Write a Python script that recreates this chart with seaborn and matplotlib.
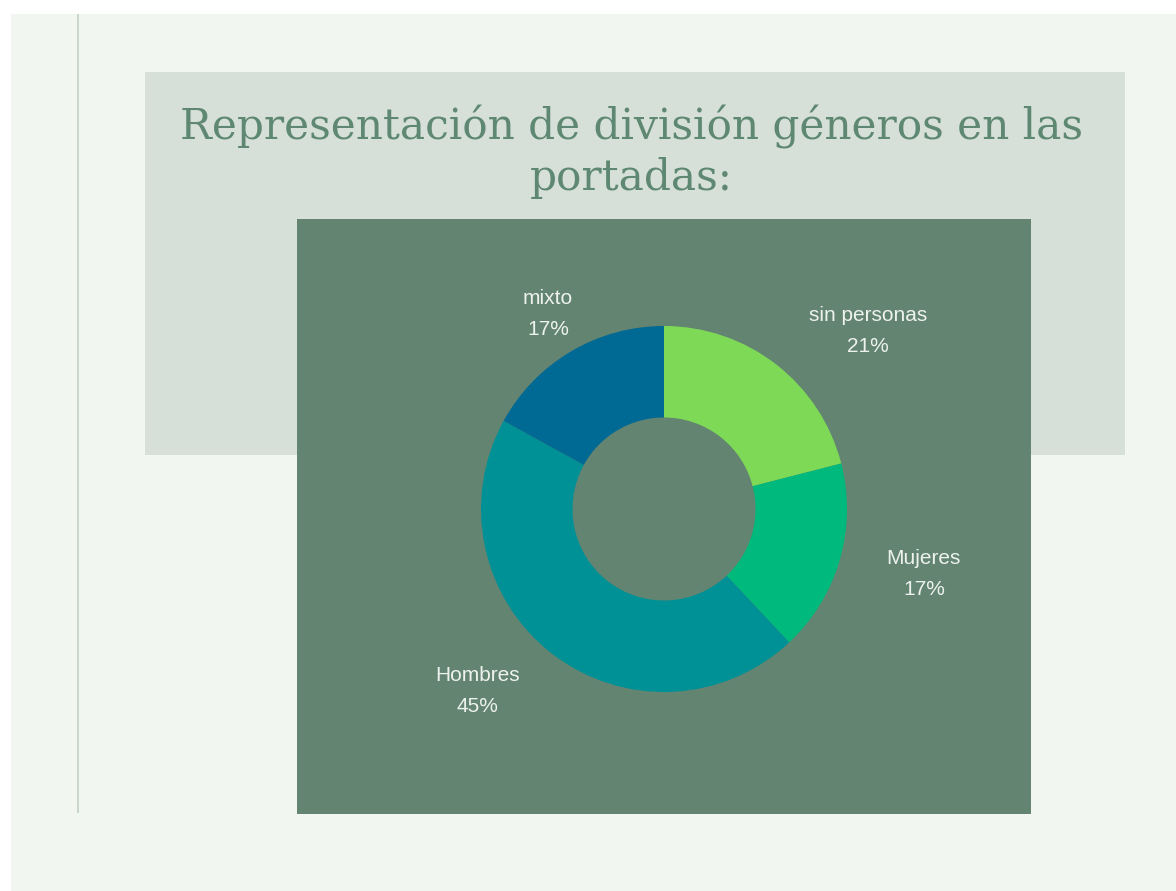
import matplotlib
matplotlib.use("Agg")
import matplotlib.pyplot as plt
import seaborn as sns
from matplotlib.patches import Rectangle

sns.set_theme(style="white")

# ---- data ----
categories = ["sin personas", "Mujeres", "Hombres", "mixto"]
values = [21, 17, 45, 17]
pct_labels = ["21%", "17%", "45%", "17%"]
title_lines = ["Representación de división géneros en las", "portadas:"]

# ---- styles ----
slice_colors = ["#7ed957", "#00b97c", "#009197", "#006994"]
page_bg = "#f2f6f1"
title_box = "#d6e0d9"
panel_bg = "#628471"
title_color = "#5f8872"
label_color = "#eef2ee"

W, H = 1176, 891
fig = plt.figure(figsize=(W / 100, H / 100), dpi=100)
fig.patch.set_facecolor("white")

def px_rect(x0, y0, x1, y1, color, z):
    fig.patches.append(Rectangle((x0 / W, 1 - y1 / H), (x1 - x0) / W, (y1 - y0) / H,
                                 transform=fig.transFigure, facecolor=color,
                                 edgecolor="none", zorder=z))

px_rect(11, 14, W, H, page_bg, 0)
px_rect(77, 14, 79, 813, "#c8d6cc", 1)
px_rect(145, 72, 1125, 455, title_box, 1)
px_rect(297, 219, 1031, 814, panel_bg, 2)

fig.text(631 / W, 1 - 139 / H, title_lines[0], ha="center", va="baseline",
         fontsize=30.4, family="DejaVu Serif", color=title_color, zorder=5)
fig.text(631 / W, 1 - 190 / H, title_lines[1], ha="center", va="baseline",
         fontsize=30.4, family="DejaVu Serif", color=title_color, zorder=5)

# donut axes
cx, cy, R = 664, 509, 183
side = 600
L = side / (2 * R)
ax = fig.add_axes([(cx - side / 2) / W, (H - cy - side / 2) / H, side / W, side / H])
ax.set_zorder(3)
ax.patch.set_alpha(0)
ax.pie(values, colors=slice_colors, startangle=90, counterclock=False,
       radius=1.0, wedgeprops=dict(width=0.5, edgecolor="none", linewidth=0))
ax.set_xlim(-L, L)
ax.set_ylim(-L, L)
ax.set_aspect("equal")
ax.axis("off")

label_pos = [(1.115, 0.975), (1.42, -0.355), (-1.02, -0.995), (-0.634, 1.065)]
for cat, pct, (lx, ly) in zip(categories, pct_labels, label_pos):
    ax.text(lx, ly + 0.085, cat, ha="center", va="center", fontsize=15,
            family="Liberation Sans", color=label_color)
    ax.text(lx, ly - 0.085, pct, ha="center", va="center", fontsize=15,
            family="Liberation Sans", color=label_color)

fig.savefig("out.png", dpi=100, facecolor=fig.get_facecolor())
